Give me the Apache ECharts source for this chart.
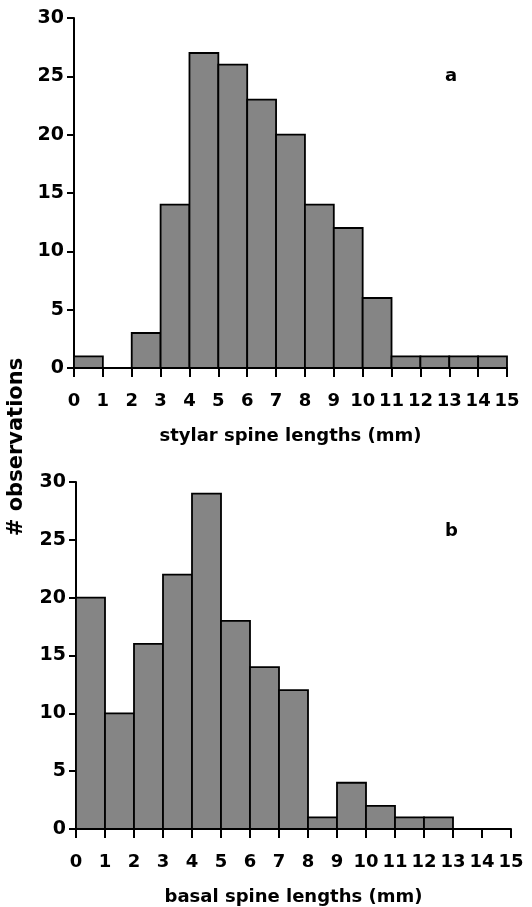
<!DOCTYPE html>
<html>
<head>
<meta charset="utf-8">
<script src="https://cdn.jsdelivr.net/npm/echarts@6/dist/echarts.min.js"></script>
<style>
html,body{margin:0;padding:0;background:#fff;}
#chart{width:532px;height:907px;}
</style>
</head>
<body>
<div id="chart"></div>
<script>
// bin edges (mm): each bin is [start, start+1)
const binStarts = [0,1,2,3,4,5,6,7,8,9,10,11,12,13,14];
const stylarCounts = [1,0,3,14,27,26,23,20,14,12,6,1,1,1,1];
const basalCounts  = [20,10,16,22,29,18,14,12,1,4,2,1,1,0,0];
const xTicks = [0,15,1];   // min, max, interval
const yTicks = [0,30,5];
const stylarTitle = 'stylar spine lengths (mm)';
const basalTitle = 'basal spine lengths (mm)';
const yTitle = '# observations';

const FONT = 'DejaVu Sans';

function toBins(counts){
  return binStarts.map((s,i)=>[s, s+1, counts[i]]);
}

function renderBar(params, api){
  const x0 = api.value(0), x1 = api.value(1), y = api.value(2);
  if (!y) return null;
  const p0 = api.coord([x0, y]);
  const p1 = api.coord([x1, 0]);
  return {
    type: 'rect',
    shape: {x: p0[0], y: p0[1], width: p1[0]-p0[0], height: p1[1]-p0[1]},
    style: {fill: '#858585', stroke: '#000', lineWidth: 1.8}
  };
}

function xAxisDef(gridIndex, name){
  return {
    gridIndex, type: 'value', min: xTicks[0], max: xTicks[1], interval: xTicks[2],
    name, nameLocation: 'middle', nameGap: 59,
    nameTextStyle: {fontFamily: FONT, fontWeight: 'bold', fontSize: 18, color: '#000'},
    axisLine: {show: true, onZero: false, lineStyle: {color: '#000', width: 2}},
    axisTick: {show: true, inside: false, length: 9, lineStyle: {color: '#000', width: 2}},
    axisLabel: {show: true, margin: 24, fontFamily: FONT, fontWeight: 'bold', fontSize: 18, color: '#000'},
    splitLine: {show: false}
  };
}
function yAxisDef(gridIndex){
  return {
    gridIndex, type: 'value', min: yTicks[0], max: yTicks[1], interval: yTicks[2],
    axisLine: {show: true, lineStyle: {color: '#000', width: 2}},
    axisTick: {show: true, length: 7, lineStyle: {color: '#000', width: 2}},
    axisLabel: {show: true, margin: 10, fontFamily: FONT, fontWeight: 'bold', fontSize: 19, color: '#000'},
    splitLine: {show: false}
  };
}

const chart = echarts.init(document.getElementById('chart'), null, {renderer: 'canvas'});
chart.setOption({
  backgroundColor: '#fff',
  animation: false,
  title: [
    {text: 'a', left: 440, top: 62, textStyle: {fontFamily: FONT, fontWeight: 'bold', fontSize: 18, color: '#000'}},
    {text: 'b', left: 440, top: 517, textStyle: {fontFamily: FONT, fontWeight: 'bold', fontSize: 18, color: '#000'}}
  ],
  grid: [
    {left: 74, right: 25, top: 18, height: 350, containLabel: false, outerBoundsMode: 'none'},
    {left: 76, right: 21, top: 482, height: 347, containLabel: false, outerBoundsMode: 'none'}
  ],
  xAxis: [xAxisDef(0, stylarTitle), xAxisDef(1, basalTitle)],
  yAxis: [yAxisDef(0), yAxisDef(1)],
  series: [
    {type: 'custom', xAxisIndex: 0, yAxisIndex: 0, renderItem: renderBar,
     encode: {x: [0,1], y: 2}, data: toBins(stylarCounts)},
    {type: 'custom', xAxisIndex: 1, yAxisIndex: 1, renderItem: renderBar,
     encode: {x: [0,1], y: 2}, data: toBins(basalCounts)}
  ],
  graphic: [
    {type: 'text', x: 17, y: 447, rotation: Math.PI/2,
     style: {text: yTitle, fontFamily: FONT, fontWeight: 'bold', fontSize: 21, fill: '#000',
             align: 'center', verticalAlign: 'middle'}}
  ]
});
</script>
</body>
</html>
